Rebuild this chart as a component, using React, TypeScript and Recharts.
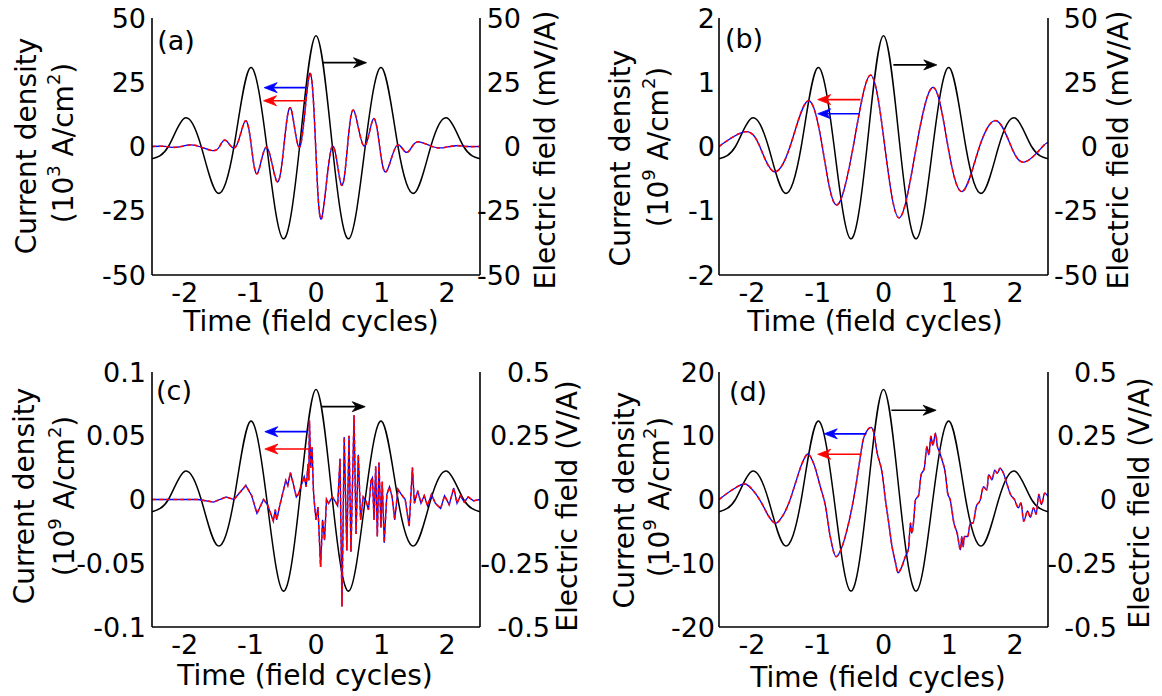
import React from 'react';
import { LineChart, Line, XAxis, YAxis, ReferenceLine } from 'recharts';

// time axis (field cycles)
const timeTicks = [-2, -1, 0, 1, 2];
const minorTicks = [-2.5, -2, -1.5, -1, -0.5, 0, 0.5, 1, 1.5, 2, 2.5];

// driving field, read at extrema and zero crossings
const fieldTimes = [-2.5, -2.25, -2, -1.75, -1.5, -1.25, -1, -0.75, -0.5, -0.25, 0, 0.25, 0.5, 0.75, 1, 1.25, 1.5, 1.75, 2, 2.25, 2.5];
const fieldMvA = [-4.8, 0, 11.1, 0, -18.1, 0, 30.7, 0, -35.9, 0, 43.1, 0, -35.9, 0, 30.7, 0, -18.1, 0, 11.1, 0, -4.8];
const fieldVA = [-0.048, 0, 0.111, 0, -0.181, 0, 0.307, 0, -0.359, 0, 0.431, 0, -0.359, 0, 0.307, 0, -0.181, 0, 0.111, 0, -0.048];

// (a) current density, 10^3 A/cm^2
const curATimes = [-2.5, -2.3, -2.13, -1.93, -1.78, -1.58, -1.47, -1.37, -1.22, -1.08, -0.985, -0.89, -0.75, -0.6, -0.49, -0.38, -0.24, -0.1, -0.005, 0.087, 0.24, 0.38, 0.48, 0.58, 0.73, 0.87, 0.97, 1.07, 1.22, 1.36, 1.465, 1.57, 1.77, 1.93, 2.13, 2.3, 2.5];
const curAValues = [0, 0.05, -0.3, 0.6, 0, -1.6, 0, 2.3, 0, 9.9, 0, -10.4, -0.3, -13.5, 0, 14.6, 0.2, 28.1, 0, -27.9, -0.3, -14.6, 0, 13.9, 0.2, 10.6, 0, -9.8, 0, -2.1, 0, 1.8, 0, -0.5, 0.3, 0, 0];

// (b) current density, 10^9 A/cm^2
const curBTimes = [-2.5, -2.1, -1.88, -1.67, -1.42, -1.15, -0.93, -0.72, -0.46, -0.2, 0.02, 0.24, 0.5, 0.76, 0.98, 1.2, 1.46, 1.72, 1.94, 2.15, 2.42, 2.5];
const curBValues = [0, 0.23, 0, -0.39, 0, 0.71, 0, -0.91, 0, 1.11, 0, -1.11, 0, 0.92, 0, -0.7, 0, 0.4, 0, -0.24, 0, 0.05];

// (c) current density, 10^9 A/cm^2
const curCTimes = [-2.5, -1.8, -1.56, -1.37, -1.25, -1.07, -0.98, -0.9, -0.8, -0.74, -0.65, -0.62, -0.6, -0.54, -0.46, -0.43, -0.39, -0.35, -0.3, -0.27, -0.18, -0.15, -0.12, -0.11, -0.1, -0.08, -0.06, -0.04, -0.03, 0, 0.03, 0.07, 0.1, 0.13, 0.16, 0.19, 0.25, 0.3, 0.33, 0.366, 0.396, 0.43, 0.47, 0.503, 0.533, 0.58, 0.61, 0.645, 0.68, 0.72, 0.76, 0.8, 0.84, 0.86, 0.885, 0.91, 0.935, 0.96, 0.99, 1.01, 1.04, 1.08, 1.12, 1.16, 1.2, 1.25, 1.3, 1.36, 1.42, 1.47, 1.5, 1.55, 1.6, 1.65, 1.7, 1.76, 1.82, 1.9, 1.96, 2.03, 2.1, 2.15, 2.2, 2.26, 2.32, 2.4, 2.5];
const curCValues = [0, 0, -0.002, 0.002, 0, 0.011, 0.003, -0.011, 0, -0.004, -0.017, -0.008, -0.016, -0.002, 0.015, 0.011, 0.021, 0.013, 0.002, 0.004, 0.018, 0.01, 0.028, 0.015, 0.062, 0.025, 0.041, 0.008, 0, -0.016, -0.006, -0.053, -0.016, -0.032, 0, -0.003, 0.002, -0.002, -0.005, 0.032, -0.084, 0.049, -0.04, 0.05, -0.041, 0.066, -0.027, 0.035, -0.016, 0.002, -0.001, -0.008, 0.015, 0.017, -0.016, 0.026, -0.029, 0.029, -0.022, 0.014, -0.034, 0.004, 0.01, 0.002, -0.016, 0.008, 0.004, 0, -0.021, 0.025, -0.003, 0.007, -0.003, 0.003, -0.005, 0.004, -0.003, -0.007, 0.003, -0.004, 0.009, -0.003, 0.003, -0.002, 0.002, -0.001, 0];

// (d) current density, 10^9 A/cm^2
const curDTimes = [-2.5, -2.3, -2.11, -1.95, -1.85, -1.74, -1.64, -1.54, -1.44, -1.34, -1.24, -1.15, -1.06, -0.96, -0.88, -0.81, -0.72, -0.63, -0.53, -0.43, -0.37, -0.31, -0.25, -0.19, -0.15, -0.1, -0.02, 0.03, 0.08, 0.13, 0.18, 0.22, 0.28, 0.33, 0.38, 0.41, 0.43, 0.46, 0.485, 0.535, 0.57, 0.62, 0.66, 0.69, 0.72, 0.75, 0.79, 0.82, 0.85, 0.89, 0.94, 0.975, 1.015, 1.07, 1.12, 1.17, 1.19, 1.21, 1.23, 1.28, 1.32, 1.36, 1.41, 1.47, 1.52, 1.57, 1.6, 1.65, 1.69, 1.73, 1.77, 1.82, 1.88, 1.93, 1.99, 2.05, 2.09, 2.13, 2.19, 2.23, 2.28, 2.32, 2.36, 2.4, 2.45, 2.5];
const curDValues = [0, 1.5, 2.43, 1.0, -0.6, -2.7, -3.74, -2.7, -0.6, 2.5, 5.6, 7.14, 5.6, 2.0, -1.1, -5.8, -8.97, -7.4, -3.7, 1.5, 5.5, 9.3, 10.8, 11.3, 10.6, 7.5, 4.1, -0.1, -3.7, -7.4, -9.8, -11.5, -10.5, -9.0, -7.7, -3.7, -5.3, -3.2, -0.1, 0.7, 3.8, 4.9, 8.3, 7.0, 9.9, 8.5, 10.4, 8.3, 7.5, 6.2, 4.1, 1.0, -0.1, -3.7, -5.3, -7.9, -5.8, -7.4, -5.8, -5.8, -3.7, -3.7, -1.1, -0.1, 2.0, 1.5, 3.9, 3.1, 4.6, 4.1, 4.9, 4.2, 2.3, 0.8, 0, -1.3, -0.5, -3.4, -1.8, -2.8, -1.3, -2.3, 0.8, -0.8, 1.0, 0.5];

const pairs = (ts: number[], vs: number[]) => ts.map((t, i) => ({ t, v: vs[i] }));

const FONT = 'DejaVu Sans, Verdana, sans-serif';

const arrowShape = (props: any) => {
  const { x1, y1, x2, y2, stroke } = props;
  const ang = Math.atan2(y2 - y1, x2 - x1);
  const c = Math.cos(ang);
  const s = Math.sin(ang);
  const L = 13;
  const W = 5;
  const N = 4;
  const bx = x2 - L * c;
  const by = y2 - L * s;
  const nx = x2 - (L - N) * c;
  const ny = y2 - (L - N) * s;
  const pts = [
    [x2, y2],
    [bx - W * s, by + W * c],
    [nx, ny],
    [bx + W * s, by - W * c],
  ]
    .map((p) => p.join(','))
    .join(' ');
  return (
    <g>
      <line x1={x1} y1={y1} x2={nx} y2={ny} stroke={stroke} strokeWidth={1.7} />
      <polygon points={pts} fill={stroke} stroke={stroke} strokeWidth={0.8} />
    </g>
  );
};

type Arrow = { from: number; to: number; y: number; color: string };

type PanelProps = {
  left: number;
  top: number;
  width: number;
  height: number;
  marginTop: number;
  leftW: number;
  rightW: number;
  xH: number;
  jDomain: number[];
  jTicks: number[];
  eDomain: number[];
  eTicks: number[];
  field: { t: number; v: number }[];
  current: { t: number; v: number }[];
  curveType: 'natural' | 'linear' | 'monotone';
  arrows: Arrow[];
  leftGap: number;
  rightEdge: number;
};

const Panel = (p: PanelProps) => {
  const leftTick = (props: any) => (
    <text x={props.x - p.leftGap} y={props.y} textAnchor="end" dominantBaseline="central" fontSize={27} fontFamily={FONT} fill="#000">
      {props.payload.value}
    </text>
  );
  const rightTick = (props: any) => (
    <text x={props.x + p.rightEdge} y={props.y} textAnchor="end" dominantBaseline="central" fontSize={27} fontFamily={FONT} fill="#000">
      {props.payload.value}
    </text>
  );
  const bottomTick = (props: any) => (
    <text x={props.x} y={props.y + 17} textAnchor="middle" dominantBaseline="central" fontSize={27} fontFamily={FONT} fill="#000">
      {props.payload.value}
    </text>
  );
  return (
    <div style={{ position: 'absolute', left: p.left, top: p.top }}>
      <LineChart width={p.width} height={p.height} margin={{ top: p.marginTop, right: 0, bottom: 0, left: 0 }}>
        <XAxis
          xAxisId="x"
          dataKey="t"
          type="number"
          domain={[-2.5, 2.5]}
          allowDataOverflow
          ticks={timeTicks}
          tickLine={false}
          tickSize={0}
          tickMargin={0}
          height={p.xH}
          axisLine={{ stroke: '#000', strokeWidth: 1.6 }}
          tick={bottomTick}
        />
        <XAxis
          xAxisId="xb"
          dataKey="t"
          type="number"
          orientation="bottom"
          mirror
          height={0}
          domain={[-2.5, 2.5]}
          allowDataOverflow
          ticks={minorTicks}
          tick={false}
          tickSize={5}
          axisLine={false}
          tickLine={{ stroke: '#000', strokeWidth: 1 }}
        />
        <XAxis
          xAxisId="xt"
          dataKey="t"
          type="number"
          orientation="top"
          mirror
          height={0}
          domain={[-2.5, 2.5]}
          allowDataOverflow
          ticks={minorTicks}
          tick={false}
          tickSize={5}
          axisLine={{ stroke: '#000', strokeWidth: 1.6 }}
          tickLine={{ stroke: '#000', strokeWidth: 1 }}
        />
        <YAxis
          yAxisId="j"
          type="number"
          domain={p.jDomain}
          ticks={p.jTicks}
          allowDataOverflow
          width={p.leftW}
          tickLine={false}
          tickSize={0}
          tickMargin={0}
          axisLine={{ stroke: '#000', strokeWidth: 1.6 }}
          tick={leftTick}
        />
        <YAxis
          yAxisId="e"
          orientation="right"
          type="number"
          domain={p.eDomain}
          ticks={p.eTicks}
          allowDataOverflow
          width={p.rightW}
          tickLine={false}
          tickSize={0}
          tickMargin={0}
          axisLine={{ stroke: '#000', strokeWidth: 1.6 }}
          tick={rightTick}
        />
        <Line xAxisId="x" yAxisId="e" data={p.field} dataKey="v" type="natural" stroke="#000" strokeWidth={1.5} dot={false} isAnimationActive={false} />
        <Line xAxisId="x" yAxisId="j" data={p.current} dataKey="v" type={p.curveType} stroke="#0000ff" strokeWidth={1.3} dot={false} isAnimationActive={false} />
        <Line xAxisId="x" yAxisId="j" data={p.current} dataKey="v" type={p.curveType} stroke="#ff0000" strokeWidth={1.6} strokeDasharray="4 3" dot={false} isAnimationActive={false} />
        {p.arrows.map((a, i) => (
          <ReferenceLine
            key={i}
            xAxisId="x"
            yAxisId="j"
            segment={[{ x: a.from, y: a.y }, { x: a.to, y: a.y }]}
            stroke={a.color}
            ifOverflow="visible"
            shape={arrowShape}
          />
        ))}
      </LineChart>
    </div>
  );
};

const Title = ({ x, y, text, rotate = false, size = 28 }: { x: number; y: number; text: string; rotate?: boolean; size?: number }) => (
  <text
    x={x}
    y={y}
    textAnchor="middle"
    dominantBaseline="central"
    fontSize={size}
    fontFamily={FONT}
    fill="#000"
    transform={rotate ? `rotate(-90 ${x} ${y})` : undefined}
  >
    {text}
  </text>
);

// "(10^p A/cm^2)" with real superscripts
const UnitTitle = ({ x, y, power }: { x: number; y: number; power: string }) => (
  <text
    x={x}
    y={y}
    textAnchor="middle"
    dominantBaseline="central"
    fontSize={28}
    fontFamily={FONT}
    fill="#000"
    transform={`rotate(-90 ${x} ${y})`}
  >
    (10
    <tspan fontSize={18} dy={-10}>{power}</tspan>
    <tspan dy={10}> A/cm</tspan>
    <tspan fontSize={18} dy={-10}>2</tspan>
    <tspan dy={10}>)</tspan>
  </text>
);

const App = () => {
  return (
    <div style={{ position: 'absolute', left: 0, top: 0, width: 1162, height: 696, background: '#fff', overflow: 'hidden' }}>
      <Panel
        left={0} top={0} width={581} height={348} marginTop={18} leftW={152} rightW={101} xH={73}
        jDomain={[-50, 50]} jTicks={[-50, -25, 0, 25, 50]} eDomain={[-50, 50]} eTicks={[-50, -25, 0, 25, 50]}
        field={pairs(fieldTimes, fieldMvA)} current={pairs(curATimes, curAValues)} curveType="natural"
        arrows={[
          { from: 0.1, to: 0.77, y: 32.6, color: '#000' },
          { from: -0.15, to: -0.79, y: 22.9, color: '#0000ff' },
          { from: -0.15, to: -0.8, y: 17.8, color: '#ff0000' },
        ]}
        leftGap={6} rightEdge={41}
      />
      <Panel
        left={581} top={0} width={581} height={348} marginTop={18} leftW={138} rightW={114} xH={73}
        jDomain={[-2, 2]} jTicks={[-2, -1, 0, 1, 2]} eDomain={[-50, 50]} eTicks={[-50, -25, 0, 25, 50]}
        field={pairs(fieldTimes, fieldMvA)} current={pairs(curBTimes, curBValues)} curveType="natural"
        arrows={[
          { from: 0.15, to: 0.81, y: 1.27, color: '#000' },
          { from: -0.35, to: -1.0, y: 0.73, color: '#ff0000' },
          { from: -0.37, to: -1.0, y: 0.51, color: '#0000ff' },
        ]}
        leftGap={4} rightEdge={50}
      />
      <Panel
        left={0} top={348} width={581} height={348} marginTop={24} leftW={152} rightW={101} xH={69}
        jDomain={[-0.1, 0.1]} jTicks={[-0.1, -0.05, 0, 0.05, 0.1]} eDomain={[-0.5, 0.5]} eTicks={[-0.5, -0.25, 0, 0.25, 0.5]}
        field={pairs(fieldTimes, fieldVA)} current={pairs(curCTimes, curCValues)} curveType="linear"
        arrows={[
          { from: 0.09, to: 0.75, y: 0.0728, color: '#000' },
          { from: -0.13, to: -0.78, y: 0.0532, color: '#0000ff' },
          { from: -0.11, to: -0.78, y: 0.0396, color: '#ff0000' },
        ]}
        leftGap={6} rightEdge={70}
      />
      <Panel
        left={581} top={348} width={581} height={348} marginTop={24} leftW={138} rightW={114} xH={69}
        jDomain={[-20, 20]} jTicks={[-20, -10, 0, 10, 20]} eDomain={[-0.5, 0.5]} eTicks={[-0.5, -0.25, 0, 0.25, 0.5]}
        field={pairs(fieldTimes, fieldVA)} current={pairs(curDTimes, curDValues)} curveType="monotone"
        arrows={[
          { from: 0.12, to: 0.8, y: 14.0, color: '#000' },
          { from: -0.26, to: -0.9, y: 10.3, color: '#0000ff' },
          { from: -0.34, to: -1.0, y: 7.1, color: '#ff0000' },
        ]}
        leftGap={4} rightEdge={69}
      />
      <svg width={1162} height={696} style={{ position: 'absolute', left: 0, top: 0, pointerEvents: 'none' }}>
        <Title x={26} y={146} text="Current density" rotate />
        <UnitTitle x={63} y={143} power="3" />
        <Title x={545} y={150} text="Electric field (mV/A)" rotate />
        <Title x={311} y={321} text="Time (field cycles)" />
        <Title x={176} y={40} text="(a)" size={27} />

        <Title x={620} y={158} text="Current density" rotate />
        <UnitTitle x={658} y={147} power="9" />
        <Title x={1118} y={150} text="Electric field (mV/A)" rotate />
        <Title x={875} y={321} text="Time (field cycles)" />
        <Title x={744} y={38} text="(b)" size={27} />

        <Title x={24} y={496} text="Current density" rotate />
        <UnitTitle x={64} y={496} power="9" />
        <Title x={567} y={506} text="Electric field (V/A)" rotate />
        <Title x={305} y={675} text="Time (field cycles)" />
        <Title x={174} y={390} text="(c)" size={27} />

        <Title x={624} y={500} text="Current density" rotate />
        <UnitTitle x={659} y={497} power="9" />
        <Title x={1139} y={503} text="Electric field (V/A)" rotate />
        <Title x={878} y={677} text="Time (field cycles)" />
        <Title x={748} y={391} text="(d)" size={27} />
      </svg>
    </div>
  );
};

export default App;
